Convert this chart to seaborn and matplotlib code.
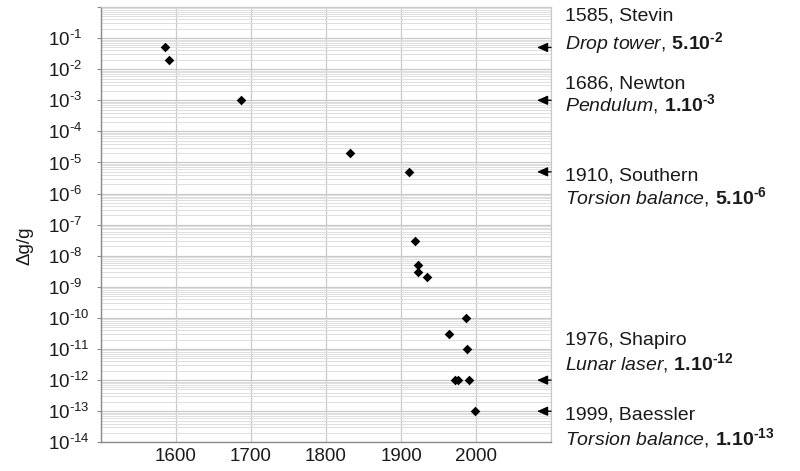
import numpy as np
import matplotlib
matplotlib.use('agg')
import matplotlib.pyplot as plt
import matplotlib.transforms as mtransforms
from matplotlib.ticker import FixedLocator, FuncFormatter
import seaborn as sns

# measurements: year and relative precision dg/g
years = [1585, 1590, 1686, 1832, 1910, 1918, 1922, 1923, 1935,
         1964, 1972, 1976, 1987, 1988, 1990, 1999]
dg = [5e-2, 2e-2, 1e-3, 2e-5, 5e-6, 3e-8, 5e-9, 3e-9, 2e-9,
      3e-11, 1e-12, 1e-12, 1e-10, 1e-11, 1e-12, 1e-13]

# highlighted experiments on the right
ann_who = ['1585, Stevin', '1686, Newton', '1910, Southern', '1976, Shapiro', '1999, Baessler']
ann_method = ['Drop tower', 'Pendulum', 'Torsion balance', 'Lunar laser', 'Torsion balance']
ann_mant = [5, 1, 5, 1, 1]
ann_exp = [-2, -3, -6, -12, -13]

x_ticks = [1500, 1600, 1700, 1800, 1900, 2000, 2100]
x_labels = ['', '1600', '1700', '1800', '1900', '2000', '']
y_exps = list(range(-14, 1))

# text baselines (axes fraction) for the two lines of each note
line1_y = [0.9700, 0.8123, 0.6019, 0.2242, 0.0519]
line2_y = [0.9042, 0.7627, 0.5481, 0.1668, -0.0055]

HY = '\u2010'  # short hyphen, as in the original exponents

sns.set_theme(style='white')
plt.rcParams['font.family'] = ['Liberation Sans', 'DejaVu Sans']
plt.rcParams['mathtext.fontset'] = 'custom'
plt.rcParams['mathtext.rm'] = 'Liberation Sans'
plt.rcParams['mathtext.it'] = 'Liberation Sans:italic'
plt.rcParams['mathtext.bf'] = 'Liberation Sans:bold'

fig, ax = plt.subplots(figsize=(8, 4.71), dpi=100)
fig.subplots_adjust(left=0.12625, right=0.68875, bottom=0.0609, top=0.9851)

sns.scatterplot(x=years, y=dg, marker='D', s=24, color='black', linewidth=0, ax=ax, zorder=3)
ax.set_yscale('log')
ax.set_ylim(1e-14, 1)
ax.set_xlim(1500, 2100)

ax.set_xticks(x_ticks)
ax.set_xticklabels(x_labels)
ax.yaxis.set_major_locator(FixedLocator([10.0 ** e for e in y_exps]))
ax.yaxis.set_minor_locator(FixedLocator([m * 10.0 ** e for e in y_exps[:-1] for m in range(2, 10)]))
ax.yaxis.set_major_formatter(FuncFormatter(
    lambda v, p: '' if v >= 1 else r'$\mathregular{10^{%s%d}}$' % (HY, -round(np.log10(v)))))

ax.grid(which='major', axis='both', color='#c9c9c9', linewidth=0.9)
ax.grid(which='minor', axis='y', color='#dedede', linewidth=0.7)
ax.set_axisbelow(True)

ax.tick_params(axis='y', which='major', length=3, width=0.8, color='#8a8a8a',
               labelsize=13.5, pad=35.3, left=True, labelcolor='#1a1a1a')
ax.tick_params(axis='y', which='minor', length=0)
ax.tick_params(axis='x', length=0, labelsize=13.5, pad=4, labelcolor='#1a1a1a')
plt.setp(ax.get_yticklabels(), ha='left')

for side in ['left', 'bottom']:
    ax.spines[side].set_color('#8a8a8a')
    ax.spines[side].set_linewidth(1.0)
for side in ['top', 'right']:
    ax.spines[side].set_color('#c9c9c9')
    ax.spines[side].set_linewidth(0.9)

ax.set_ylabel('Δg/g', fontsize=13.5, color='#1a1a1a')
ax.yaxis.set_label_coords(-0.149, 0.451)

trans = mtransforms.blended_transform_factory(ax.transAxes, ax.transData)
tr_text = ax.transAxes
for who, meth, m, e, y1, y2 in zip(ann_who, ann_method, ann_mant, ann_exp, line1_y, line2_y):
    val = m * 10.0 ** e
    ax.annotate('', xy=(0.969, val), xytext=(1.0, val), xycoords=trans, textcoords=trans,
                annotation_clip=False,
                arrowprops=dict(arrowstyle='-|>,head_length=0.45,head_width=0.2', color='black',
                                lw=1.0, shrinkA=0, shrinkB=0, mutation_scale=14))
    ax.text(1.031, y1, who, transform=tr_text, fontsize=14, va='baseline', ha='left',
            color='#1a1a1a')
    meth_tex = meth.replace(' ', r'\ ')
    ax.text(1.031, y2, r'$\mathit{%s,}\,\mathbf{%d.10^{%s%d}}$' % (meth_tex, m, HY, -e),
            transform=tr_text, fontsize=14, va='baseline', ha='left', color='#1a1a1a')

plt.savefig('out.png', dpi=100)
plt.close(fig)
